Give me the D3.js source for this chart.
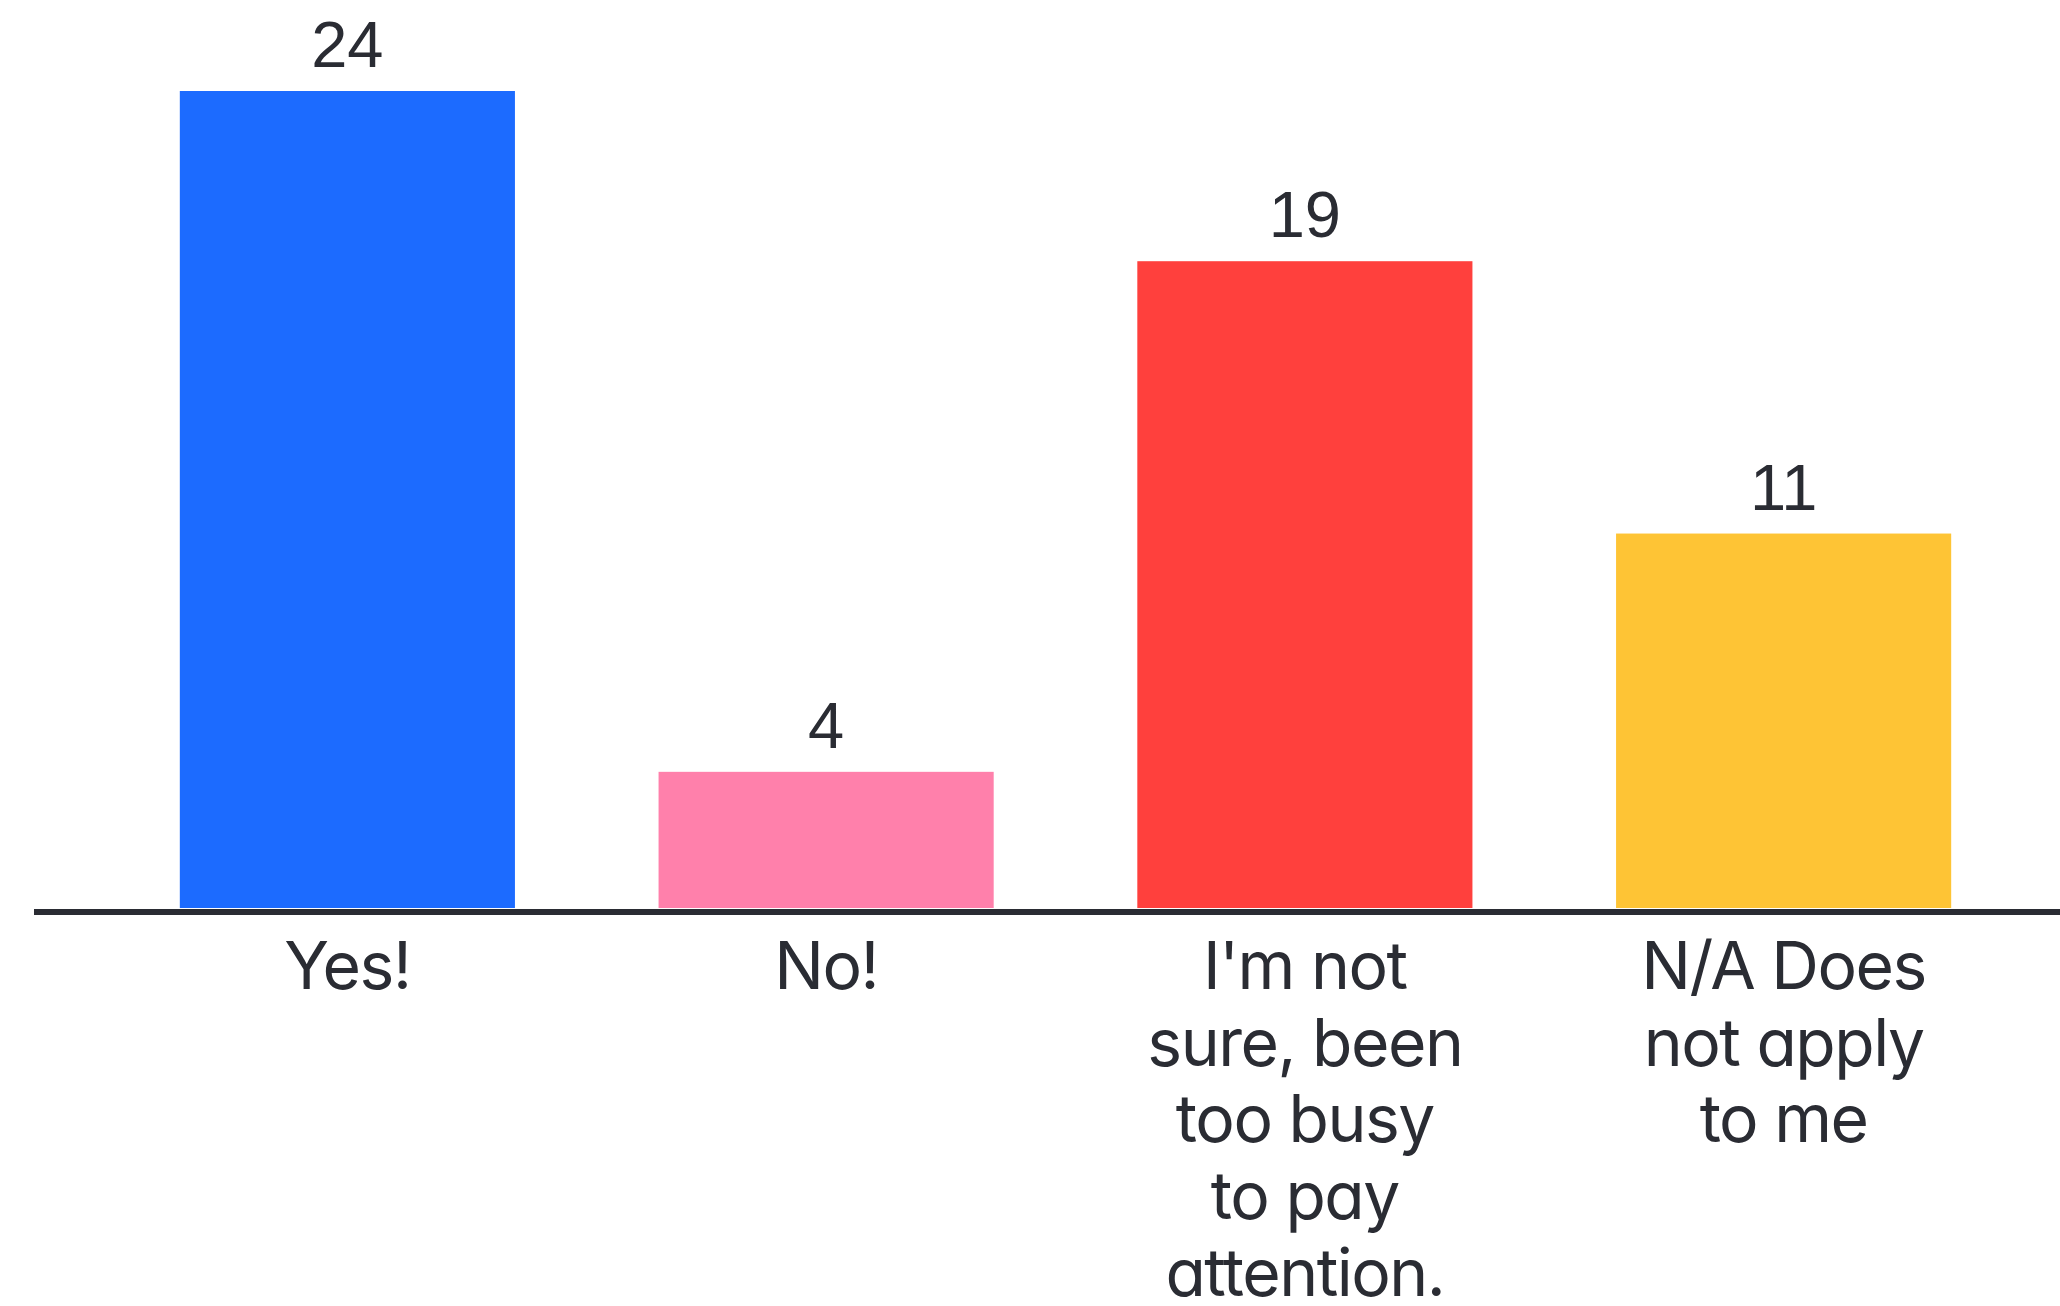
<!DOCTYPE html>
<html>
<head>
<meta charset="utf-8">
<script src="https://cdn.jsdelivr.net/npm/d3@7"></script>
<style>
  html, body { margin: 0; padding: 0; background: #fff; }
  .cat { font-family: Inter, "Open Sans", sans-serif; font-feature-settings: "cv11" 1; fill: #2a2c33; }
  .val { font-family: "Liberation Sans", Arial, sans-serif; fill: #2a2c33; }
</style>
</head>
<body>
<div id="chart"></div>
<script>
var width = 2060,
    height = 1306;

// data
var categories = ["Yes!", "No!", "I'm not sure, been too busy to pay attention.", "N/A Does not apply to me"];
var values = [24, 4, 19, 11];
var tickLabels = [
    ["Yes!"],
    ["No!"],
    ["I'm not", "sure, been", "too busy", "to pay", "attention."],
    ["N/A Does", "not apply", "to me"]
];
var colors = ["#1c6bff", "#ff80ab", "#ff403d", "#fec435"];

var baseY = 908;

var x = d3.scaleBand()
    .domain(categories)
    .range([108, 2023])
    .paddingInner(0.3)
    .paddingOuter(0.15);

var y = d3.scaleLinear()
    .domain([0, 24])
    .range([baseY, 91]);

var color = d3.scaleOrdinal().domain(categories).range(colors);

var svg = d3.select("#chart").append("svg")
    .attr("width", width)
    .attr("height", height);

svg.selectAll("rect.bar")
    .data(categories)
    .enter().append("rect")
    .attr("class", "bar")
    .attr("x", function(d) { return x(d); })
    .attr("width", x.bandwidth())
    .attr("y", function(d, i) { return y(values[i]); })
    .attr("height", function(d, i) { return baseY - y(values[i]); })
    .style("fill", function(d) { return color(d); });

// value labels above bars
svg.selectAll("text.val")
    .data(categories)
    .enter().append("text")
    .attr("class", "val")
    .attr("x", function(d) { return x(d) + x.bandwidth() / 2; })
    .attr("y", function(d, i) { return y(values[i]) - 24; })
    .attr("text-anchor", "middle")
    .style("font-size", "65px")
    .text(function(d, i) { return values[i]; });

// baseline
svg.append("line")
    .attr("x1", 34)
    .attr("x2", width)
    .attr("y1", baseY + 4)
    .attr("y2", baseY + 4)
    .style("stroke", "#2a2c33")
    .style("stroke-width", 6);

// category labels, one tspan per line
var lab = svg.selectAll("text.cat")
    .data(categories)
    .enter().append("text")
    .attr("class", "cat")
    .attr("text-anchor", "middle")
    .style("font-size", "66px")
    .style("letter-spacing", "-1.5px");

lab.each(function(d, i) {
    var t = d3.select(this);
    tickLabels[i].forEach(function(line, j) {
        t.append("tspan")
            .attr("x", x(d) + x.bandwidth() / 2)
            .attr("y", 989 + j * 76.7)
            .text(line);
    });
});
</script>
</body>
</html>
